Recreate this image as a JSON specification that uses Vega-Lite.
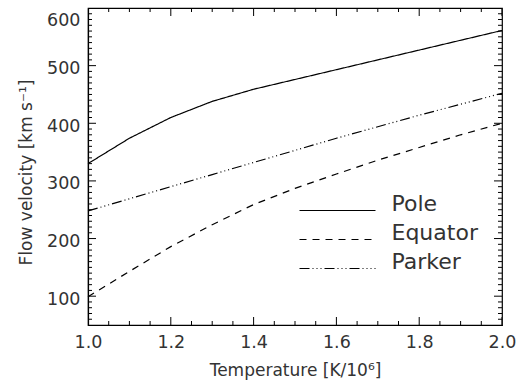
{
  "$schema": "https://vega.github.io/schema/vega-lite/v6.json",
  "width": 414,
  "height": 317,
  "autosize": {"type": "none"},
  "padding": {"left": 88, "top": 8, "right": 18, "bottom": 60},
  "background": "white",
  "config": {
    "view": {"stroke": "black", "strokeWidth": 1.2},
    "font": "DejaVu Sans",
    "axis": {"domainColor": "black", "tickColor": "black", "labelColor": "#333333", "titleColor": "#333333", "grid": false, "labelFont": "DejaVu Sans", "titleFont": "DejaVu Sans", "labelFontWeight": "normal", "titleFontWeight": "normal", "labelFontSize": 17.5, "titleFontSize": 17, "domainWidth": 1.2}
  },
  "datasets": {
    "curves": [
      {"T": 1.0, "v": 330, "series": "Pole"},
      {"T": 1.1, "v": 374, "series": "Pole"},
      {"T": 1.2, "v": 410, "series": "Pole"},
      {"T": 1.3, "v": 438, "series": "Pole"},
      {"T": 1.4, "v": 459, "series": "Pole"},
      {"T": 1.5, "v": 476, "series": "Pole"},
      {"T": 1.6, "v": 493, "series": "Pole"},
      {"T": 1.7, "v": 510, "series": "Pole"},
      {"T": 1.8, "v": 527, "series": "Pole"},
      {"T": 1.9, "v": 544, "series": "Pole"},
      {"T": 2.0, "v": 561, "series": "Pole"},
      {"T": 1.0, "v": 99, "series": "Equator"},
      {"T": 1.1, "v": 143, "series": "Equator"},
      {"T": 1.2, "v": 186, "series": "Equator"},
      {"T": 1.3, "v": 224, "series": "Equator"},
      {"T": 1.4, "v": 259, "series": "Equator"},
      {"T": 1.5, "v": 287, "series": "Equator"},
      {"T": 1.6, "v": 312, "series": "Equator"},
      {"T": 1.7, "v": 336, "series": "Equator"},
      {"T": 1.8, "v": 358, "series": "Equator"},
      {"T": 1.9, "v": 380, "series": "Equator"},
      {"T": 2.0, "v": 400, "series": "Equator"},
      {"T": 1.0, "v": 248, "series": "Parker"},
      {"T": 1.1, "v": 269, "series": "Parker"},
      {"T": 1.2, "v": 290, "series": "Parker"},
      {"T": 1.3, "v": 311, "series": "Parker"},
      {"T": 1.4, "v": 332, "series": "Parker"},
      {"T": 1.5, "v": 353, "series": "Parker"},
      {"T": 1.6, "v": 374, "series": "Parker"},
      {"T": 1.7, "v": 394, "series": "Parker"},
      {"T": 1.8, "v": 414, "series": "Parker"},
      {"T": 1.9, "v": 433, "series": "Parker"},
      {"T": 2.0, "v": 452, "series": "Parker"}
    ],
    "xticks": [
      {"t": 1.0, "kind": "major"}, {"t": 1.05, "kind": "minor"}, {"t": 1.1, "kind": "minor"}, {"t": 1.15, "kind": "minor"},
      {"t": 1.2, "kind": "major"}, {"t": 1.25, "kind": "minor"}, {"t": 1.3, "kind": "minor"}, {"t": 1.35, "kind": "minor"},
      {"t": 1.4, "kind": "major"}, {"t": 1.45, "kind": "minor"}, {"t": 1.5, "kind": "minor"}, {"t": 1.55, "kind": "minor"},
      {"t": 1.6, "kind": "major"}, {"t": 1.65, "kind": "minor"}, {"t": 1.7, "kind": "minor"}, {"t": 1.75, "kind": "minor"},
      {"t": 1.8, "kind": "major"}, {"t": 1.85, "kind": "minor"}, {"t": 1.9, "kind": "minor"}, {"t": 1.95, "kind": "minor"},
      {"t": 2.0, "kind": "major"}
    ],
    "yticks": [
      {"t": 60, "kind": "minor"}, {"t": 70, "kind": "minor"}, {"t": 80, "kind": "minor"}, {"t": 90, "kind": "minor"},
      {"t": 100, "kind": "major"}, {"t": 110, "kind": "minor"}, {"t": 120, "kind": "minor"}, {"t": 130, "kind": "minor"}, {"t": 140, "kind": "minor"},
      {"t": 150, "kind": "minor"}, {"t": 160, "kind": "minor"}, {"t": 170, "kind": "minor"}, {"t": 180, "kind": "minor"}, {"t": 190, "kind": "minor"},
      {"t": 200, "kind": "major"}, {"t": 210, "kind": "minor"}, {"t": 220, "kind": "minor"}, {"t": 230, "kind": "minor"}, {"t": 240, "kind": "minor"},
      {"t": 250, "kind": "minor"}, {"t": 260, "kind": "minor"}, {"t": 270, "kind": "minor"}, {"t": 280, "kind": "minor"}, {"t": 290, "kind": "minor"},
      {"t": 300, "kind": "major"}, {"t": 310, "kind": "minor"}, {"t": 320, "kind": "minor"}, {"t": 330, "kind": "minor"}, {"t": 340, "kind": "minor"},
      {"t": 350, "kind": "minor"}, {"t": 360, "kind": "minor"}, {"t": 370, "kind": "minor"}, {"t": 380, "kind": "minor"}, {"t": 390, "kind": "minor"},
      {"t": 400, "kind": "major"}, {"t": 410, "kind": "minor"}, {"t": 420, "kind": "minor"}, {"t": 430, "kind": "minor"}, {"t": 440, "kind": "minor"},
      {"t": 450, "kind": "minor"}, {"t": 460, "kind": "minor"}, {"t": 470, "kind": "minor"}, {"t": 480, "kind": "minor"}, {"t": 490, "kind": "minor"},
      {"t": 500, "kind": "major"}, {"t": 510, "kind": "minor"}, {"t": 520, "kind": "minor"}, {"t": 530, "kind": "minor"}, {"t": 540, "kind": "minor"},
      {"t": 550, "kind": "minor"}, {"t": 560, "kind": "minor"}, {"t": 570, "kind": "minor"}, {"t": 580, "kind": "minor"}, {"t": 590, "kind": "minor"}
    ]
  },
  "layer": [
    {
      "data": {"name": "curves"},
      "mark": {"type": "line", "color": "black", "strokeWidth": 1.2},
      "encoding": {
        "x": {"field": "T", "type": "quantitative", "scale": {"domain": [1, 2], "nice": false, "zero": false},
          "axis": {"orient": "bottom", "values": [1.0, 1.2, 1.4, 1.6, 1.8, 2.0], "format": ".1f", "ticks": false, "tickSize": 0, "labelPadding": 8, "title": "Temperature [K/10⁶]", "titleBaseline": "alphabetic", "titleY": 50, "labelFlush": false}},
        "y": {"field": "v", "type": "quantitative", "scale": {"domain": [50, 600], "nice": false, "zero": false},
          "axis": {"orient": "left", "values": [100, 200, 300, 400, 500, 600], "ticks": false, "tickSize": 0, "labelPadding": 8, "labelOffset": 3, "title": "Flow velocity [km s⁻¹]", "titleBaseline": "middle", "titleX": -62, "titleY": 164, "labelFlush": true}},
        "strokeDash": {"field": "series", "type": "nominal",
          "scale": {"domain": ["Pole", "Equator", "Parker"], "range": [[1, 0], [7, 6], [10, 3, 1, 3, 1, 3, 1, 3]]},
          "legend": {"orient": "none", "legendX": 238.5, "legendY": 191.5, "title": null, "symbolType": "M-4,0H4", "symbolSize": 361, "symbolStrokeWidth": 1.2, "symbolStrokeColor": "black", "labelFontSize": 22, "labelFont": "DejaVu Sans", "labelColor": "#333333", "labelBaseline": "alphabetic", "labelOffset": 43, "rowPadding": 7}}
      }
    },
    {
      "data": {"name": "xticks"},
      "mark": {"type": "tick", "orient": "vertical", "clip": true, "color": "black", "thickness": 1, "opacity": 1},
      "encoding": {
        "x": {"field": "t", "type": "quantitative", "axis": null},
        "y": {"datum": 50, "type": "quantitative", "axis": null},
        "size": {"field": "kind", "type": "nominal", "scale": {"domain": ["major", "minor"], "range": [16, 8]}, "legend": null}
      }
    },
    {
      "data": {"name": "xticks"},
      "mark": {"type": "tick", "orient": "vertical", "clip": true, "color": "black", "thickness": 1, "opacity": 1},
      "encoding": {
        "x": {"field": "t", "type": "quantitative", "axis": null},
        "y": {"datum": 600, "type": "quantitative", "axis": null},
        "size": {"field": "kind", "type": "nominal", "legend": null}
      }
    },
    {
      "data": {"name": "yticks"},
      "mark": {"type": "tick", "orient": "horizontal", "clip": true, "color": "black", "thickness": 1, "opacity": 1},
      "encoding": {
        "y": {"field": "t", "type": "quantitative", "axis": null},
        "x": {"datum": 1, "type": "quantitative", "axis": null},
        "size": {"field": "kind", "type": "nominal", "legend": null}
      }
    },
    {
      "data": {"name": "yticks"},
      "mark": {"type": "tick", "orient": "horizontal", "clip": true, "color": "black", "thickness": 1, "opacity": 1},
      "encoding": {
        "y": {"field": "t", "type": "quantitative", "axis": null},
        "x": {"datum": 2, "type": "quantitative", "axis": null},
        "size": {"field": "kind", "type": "nominal", "legend": null}
      }
    }
  ],
  "resolve": {"axis": {"x": "independent", "y": "independent"}}
}
